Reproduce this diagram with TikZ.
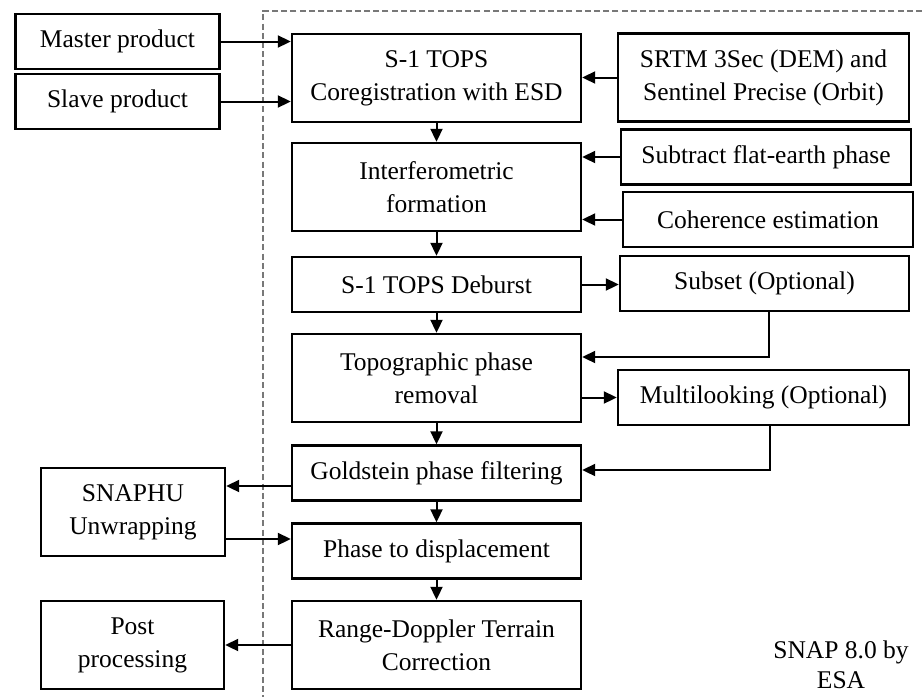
\documentclass[tikz,border=0pt]{standalone}
\usepackage{fontspec}
\setmainfont{Liberation Serif}
\usepackage{xcolor}
\usetikzlibrary{arrows.meta,positioning}
\definecolor{framegray}{RGB}{120,120,120}

\begin{document}
\begin{tikzpicture}[x=0.5pt, y=-0.5pt,
  box/.style={draw=black, line width=1.2pt, align=center, inner sep=2pt,
    font=\fontsize{12.75}{16.5}\selectfont, minimum width=144.5pt},
  tall/.style={minimum height=44pt},
  flat/.style={minimum height=27.5pt},
  side/.style={minimum width=102pt},
  flow/.style={-{Triangle[length=6.5pt,width=6pt]}, line width=1pt},
]
  \useasboundingbox (0,0) rectangle (922,697);
  \draw[framegray, line width=0.6pt, dash pattern=on 3pt off 1.6pt]
    (922,11) -- (263,11) -- (263,697);

  \node[box, side, flat] (master) at (117.5,41.5) {Master product};
  \node[box, side, flat] (slave) at (117.5,101.5) {Slave product};

  \node[box, tall] (coreg) at (436.5,78) {S-1 TOPS\\Coregistration with ESD};
  \node[box, tall] (interf) at (436.5,187) {Interferometric\\formation};
  \node[box, flat] (deburst) at (436.5,284.5) {S-1 TOPS Deburst};
  \node[box, tall] (topo) at (436.5,378) {Topographic phase\\removal};
  \node[box, flat] (gold) at (436.5,473) {Goldstein phase filtering};
  \node[box, flat] (phase) at (436.5,551) {Phase to displacement};
  \node[box, tall] (rdtc) at (436.5,645) {Range-Doppler Terrain\\Correction};

  \node[box, tall, minimum width=145.5pt] (srtm) at (763.5,77.5) {SRTM 3Sec (DEM) and\\Sentinel Precise (Orbit)};
  \node[box, flat, minimum width=145pt] (subtract) at (766,157) {Subtract flat-earth phase};
  \node[box, flat, minimum width=145pt] (coher) at (768,219.5) {Coherence estimation};
  \node[box, flat] (subset) at (764.5,283.5) {Subset (Optional)};
  \node[box, flat, minimum width=145.5pt] (multi) at (763.5,397.5) {Multilooking (Optional)};

  \node[box, tall, minimum width=92pt] (snaphu) at (133,512) {SNAPHU\\Unwrapping};
  \node[box, tall, minimum width=91.5pt] (post) at (132.5,645) {Post\\processing};

  \node[align=center, font=\fontsize{12.75}{15}\selectfont] (snap) at (841,665) {SNAP 8.0 by\\ESA};

  \draw[flow] (master.east) -- (master.east -| coreg.west);
  \draw[flow] (slave.east) -- (slave.east -| coreg.west);
  \draw[flow] (srtm.west) -- (srtm.west -| coreg.east);
  \draw[flow] (subtract.west) -- (subtract.west -| interf.east);
  \draw[flow] (coher.west) -- (coher.west -| interf.east);

  \draw[flow] (coreg) -- (interf);
  \draw[flow] (interf) -- (deburst);
  \draw[flow] (deburst) -- (topo);
  \draw[flow] (topo) -- (gold);
  \draw[flow] (gold) -- (phase);
  \draw[flow] (phase) -- (rdtc);

  \draw[flow] (deburst.east) -- (deburst.east -| subset.west);
  \draw[flow] ([xshift=2pt]subset.south) |- ([yshift=10.5pt]topo.east);
  \draw[flow] (multi.west -| topo.east) -- (multi.west);
  \draw[flow] ([xshift=3pt]multi.south) |- ([yshift=1.5pt]gold.east);

  \draw[flow] ([yshift=-6.5pt]gold.west) -- ([yshift=-6.5pt]gold.west -| snaphu.east);
  \draw[flow] ([yshift=6pt]phase.west -| snaphu.east) -- ([yshift=6pt]phase.west);
  \draw[flow] (rdtc.west) -- (rdtc.west -| post.east);
\end{tikzpicture}
\end{document}
